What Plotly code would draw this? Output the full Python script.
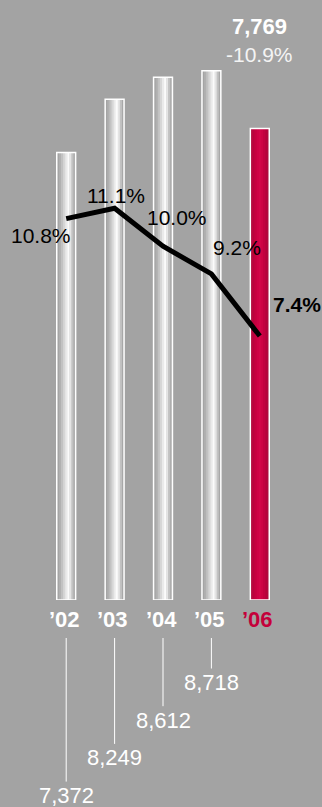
import plotly.graph_objects as go

# ---- data ----
years = ["’02", "’03", "’04", "’05", "’06"]
sales = [7372, 8249, 8612, 8718, 7769]
margin_pct = [10.8, 11.1, 10.0, 9.2, 7.4]

# ---- style ----
BG = "#a3a3a3"
RED = "#c4003a"
FONT = "Liberation Sans, Arial, Helvetica, sans-serif"
silver = ["#a4a4a4", "#b0b0b0", "#c2c2c2", "#d6d6d6", "#eaeaea",
          "#fbfbfb", "#e4e4e4", "#c2c2c2", "#a8a8a8"]
crimson = ["#b00038", "#bc003c", "#c60040", "#ce0245", "#d20648",
           "#cd0344", "#c3003f", "#b8003b", "#ae0037"]

W, H = 322, 807
T, B, L, R = 30, 207, 42, 38
plot_h = H - T - B
BW = 0.39

x = list(range(len(years)))
n = len(silver)
sw = BW / n

fig = go.Figure()
for k in range(n):
    cols = [silver[k]] * (len(x) - 1) + [crimson[k]]
    fig.add_trace(go.Bar(x=x, y=sales, width=sw * 1.2, offset=-BW / 2 + k * sw,
                         marker=dict(color=cols, line=dict(width=0)),
                         hoverinfo="skip", showlegend=False))
fig.add_trace(go.Bar(x=x, y=sales, width=BW, offset=-BW / 2,
                     marker=dict(color="rgba(0,0,0,0)", line=dict(color="white", width=1.5)),
                     hoverinfo="skip", showlegend=False))
fig.add_trace(go.Scatter(x=x, y=margin_pct, yaxis="y2", mode="lines",
                         line=dict(color="black", width=5), hoverinfo="skip", showlegend=False))

ann = []
# percentage labels (offsets in px from each point)
pct_off = [(-25, -17), (1, 13), (14, 29), (26, 26), (37, 31)]
for i, (v, (dx, dy)) in enumerate(zip(margin_pct, pct_off)):
    txt = f"{v:.1f}%"
    if i == len(x) - 1:
        txt = f"<b>{txt}</b>"
    ann.append(dict(x=i, y=v, xref="x", yref="y2", text=txt, showarrow=False,
                    xanchor="center", yanchor="middle",
                    xshift=dx, yshift=dy, font=dict(family=FONT, size=21, color="black")))

# top label for latest year
change = (sales[-1] / sales[-2] - 1) * 100
ann.append(dict(x=x[-1], y=sales[-1], xref="x", yref="y", text=f"<b>{sales[-1]:,}</b>",
                showarrow=False, xanchor="center", yanchor="middle", yshift=102,
                font=dict(family=FONT, size=22, color="white")))
ann.append(dict(x=x[-1], y=sales[-1], xref="x", yref="y", text=f"{change:.1f}%",
                showarrow=False, xanchor="center", yanchor="middle", yshift=74,
                font=dict(family=FONT, size=21, color="#f4f4f4")))

# year labels
base_px = H - B
def to_paper(ypx):
    return (base_px - ypx) / plot_h

for i, yr in enumerate(years):
    col = RED if i == len(x) - 1 else "white"
    ann.append(dict(x=i, y=to_paper(619.5), xref="x", yref="paper", text=f"<b>{yr}</b>",
                    showarrow=False, xanchor="center", yanchor="middle", xshift=-2,
                    font=dict(family=FONT, size=22, color=col)))

# staggered values with leader lines
shapes = []
for i, v in enumerate(sales[:-1]):
    cy = 682.5 + (len(x) - 2 - i) * 37.7
    shapes.append(dict(type="line", xref="x", yref="paper", x0=i, x1=i,
                       y0=to_paper(638), y1=to_paper(cy - 14),
                       line=dict(color="white", width=1)))
    ann.append(dict(x=i, y=to_paper(cy), xref="x", yref="paper", text=f"{v:,}",
                    showarrow=False, xanchor="center", yanchor="middle",
                    font=dict(family=FONT, size=22, color="white")))

fig.update_layout(
    width=W, height=H, margin=dict(t=T, b=B, l=L, r=R),
    paper_bgcolor=BG, plot_bgcolor=BG, barmode="overlay",
    xaxis=dict(range=[-0.5, len(x) - 0.5], visible=False),
    yaxis=dict(range=[0, plot_h / 0.0607], visible=False),
    yaxis2=dict(range=[11.1 - 391.7 / 34.5, 11.1 - 391.7 / 34.5 + plot_h / 34.5],
                overlaying="y", visible=False),
    annotations=ann, shapes=shapes, showlegend=False,
)
fig.write_html("out.html")
